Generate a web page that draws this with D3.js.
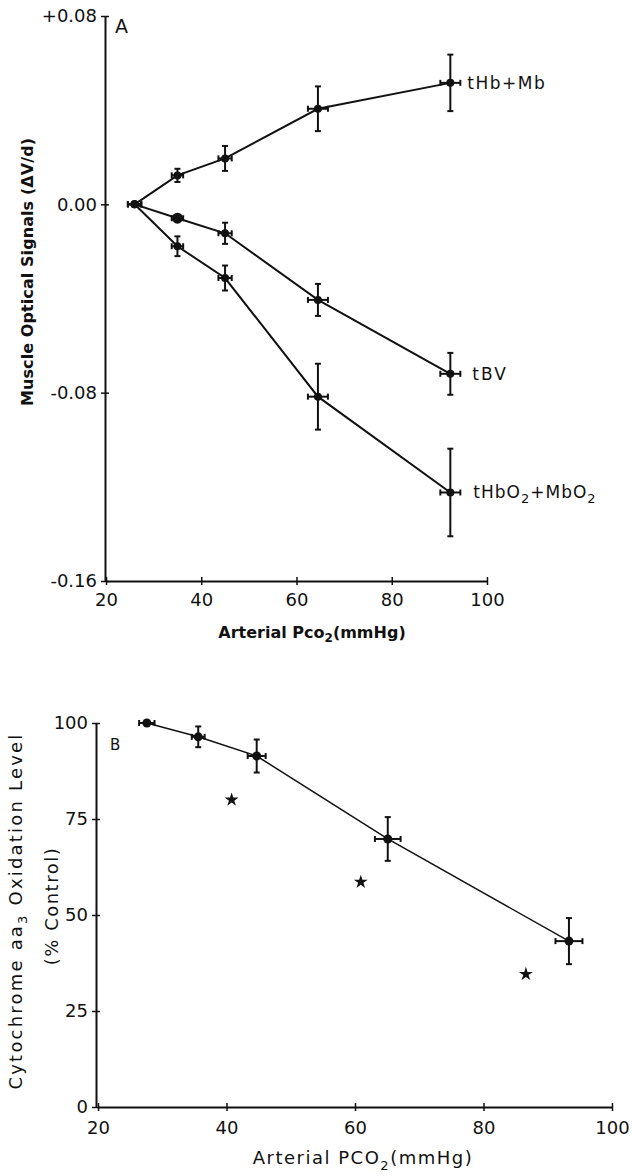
<!DOCTYPE html>
<html>
<head>
<meta charset="utf-8">
<script src="https://cdn.jsdelivr.net/npm/d3@7"></script>
<style>
  body { margin: 0; background: #fff; }
  svg text { font-family: "DejaVu Sans", sans-serif; fill: #111; }
</style>
</head>
<body>
<svg id="chart" width="632" height="1176"></svg>
<script>
// panel A: muscle optical signals vs arterial PCO2
var pco2A = [26, 35, 45, 64.5, 92.3];
var pco2ErrA = [1.4, 1.2, 1.4, 2.1, 2.1];
var hbMb = [0, 0.0123, 0.0195, 0.0406, 0.0516];
var hbMbErr = [0, 0.0028, 0.0053, 0.0095, 0.012];
var tbv = [0, -0.0059, -0.0123, -0.0406, -0.072];
var tbvErr = [0, 0, 0.0045, 0.0068, 0.0089];
var hbo2 = [0, -0.0178, -0.0313, -0.0817, -0.1224];
var hbo2Err = [0, 0.0042, 0.0053, 0.014, 0.0186];
var yTicksA = [-0.16, -0.08, 0, 0.08];
var yLabelsA = ["-0.16", "-0.08", "0.00", "+0.08"];
var xTicks = [20, 40, 60, 80, 100];

// panel B: cytochrome aa3 oxidation level
var pco2B = [27.6, 35.6, 44.7, 65.1, 93.3];
var pco2ErrB = [1.2, 1.0, 1.4, 2.0, 2.1];
var cytOx = [100, 96.4, 91.4, 69.8, 43.2];
var cytOxErr = [0, 2.7, 4.3, 5.7, 6.0];
var starX = [40.8, 60.9, 86.6];
var starY = [80, 58.6, 34.6];
var yTicksB = [0, 25, 50, 75, 100];

var svg = d3.select("#chart");

function crossTicks(g, horizontal, fs) {
  g.selectAll(".tick line").attr(horizontal ? "y1" : "x1", -4).attr(horizontal ? "y2" : "x2", 4)
    .attr("stroke", "#111").attr("stroke-width", 1.5);
  g.select(".domain").attr("stroke", "#111").attr("stroke-width", 2);
  g.attr("font-size", fs);
  g.selectAll("text").attr("font-size", fs).style("font-family", "DejaVu Sans, sans-serif");
}

function drawErrors(g, xs, ys, exs, eys, x, y, cap) {
  xs.forEach(function(xv, i) {
    var cx = x(xv), cy = y(ys[i]);
    if (eys[i] > 0) {
      var y1 = y(ys[i] + eys[i]), y2 = y(ys[i] - eys[i]);
      g.append("line").attr("x1", cx).attr("x2", cx).attr("y1", y1).attr("y2", y2);
      g.append("line").attr("x1", cx - cap).attr("x2", cx + cap).attr("y1", y1).attr("y2", y1);
      g.append("line").attr("x1", cx - cap).attr("x2", cx + cap).attr("y1", y2).attr("y2", y2);
    }
    if (exs[i] > 0) {
      var x1 = x(xv - exs[i]), x2 = x(xv + exs[i]);
      g.append("line").attr("x1", x1).attr("x2", x2).attr("y1", cy).attr("y2", cy);
      g.append("line").attr("x1", x1).attr("x2", x1).attr("y1", cy - cap).attr("y2", cy + cap);
      g.append("line").attr("x1", x2).attr("x2", x2).attr("y1", cy - cap).attr("y2", cy + cap);
    }
  });
}

// ---------- panel A ----------
var xA = d3.scaleLinear().domain([20, 100]).range([106, 487]);
var yA = d3.scaleLinear().domain([-0.16, 0.08]).range([581, 16]);

svg.append("g").attr("transform", "translate(0,581)")
  .call(d3.axisBottom(xA).tickValues(xTicks).tickSize(4).tickSizeOuter(0).tickPadding(8))
  .call(crossTicks, true, 18);
svg.append("g").attr("transform", "translate(105,0)")
  .call(d3.axisLeft(yA).tickValues(yTicksA).tickFormat(function(d, i) { return yLabelsA[i]; })
    .tickSize(4).tickSizeOuter(0).tickPadding(4))
  .call(crossTicks, false, 18);

var seriesA = [
  { y: hbMb, e: hbMbErr },
  { y: tbv, e: tbvErr },
  { y: hbo2, e: hbo2Err }
];
var lineA = d3.line();
seriesA.forEach(function(s) {
  var pts = pco2A.map(function(d, i) { return [xA(d), yA(s.y[i])]; });
  svg.append("path").attr("d", lineA(pts)).attr("fill", "none")
    .attr("stroke", "#111").attr("stroke-width", 2);
  var eg = svg.append("g").attr("stroke", "#111").attr("stroke-width", 2);
  drawErrors(eg, pco2A, s.y, pco2ErrA, s.e, xA, yA, 3);
  svg.append("g").selectAll("circle").data(pts).join("circle")
    .attr("cx", function(d) { return d[0]; }).attr("cy", function(d) { return d[1]; })
    .attr("r", 4).attr("fill", "#111");
});
// the larger dot on tBV at 35 mmHg
svg.append("circle").attr("cx", xA(pco2A[1])).attr("cy", yA(tbv[1])).attr("r", 5.5).attr("fill", "#111");

svg.append("text").attr("x", xA(pco2A[4]) + 17).attr("y", yA(hbMb[4]) + 6)
  .attr("font-size", 17).attr("letter-spacing", 1.5).text("tHb+Mb");
svg.append("text").attr("x", xA(pco2A[4]) + 22).attr("y", yA(tbv[4]) + 6)
  .attr("font-size", 17).attr("letter-spacing", 2).text("tBV");
var lab3 = svg.append("text").attr("x", xA(pco2A[4]) + 23).attr("y", yA(hbo2[4]) + 6)
  .attr("font-size", 17).attr("letter-spacing", 1);
lab3.append("tspan").text("tHbO");
lab3.append("tspan").attr("font-size", 13).attr("dy", 5).text("2");
lab3.append("tspan").attr("dy", -5).text("+MbO");
lab3.append("tspan").attr("font-size", 13).attr("dy", 5).text("2");

svg.append("text").attr("x", 115).attr("y", 33).attr("font-size", 19).text("A");

svg.append("text").attr("transform", "translate(33,272) rotate(-90)")
  .attr("text-anchor", "middle").attr("font-size", 16).attr("font-weight", "bold")
  .attr("textLength", 268).attr("lengthAdjust", "spacing")
  .text("Muscle Optical Signals (\u0394V/d)");

var xlA = svg.append("text").attr("x", 312).attr("y", 638).attr("text-anchor", "middle")
  .attr("font-size", 16).attr("font-weight", "bold");
xlA.append("tspan").text("Arterial Pco");
xlA.append("tspan").attr("font-size", 12).attr("dy", 4).text("2");
xlA.append("tspan").attr("dy", -4).text("(mmHg)");

// ---------- panel B ----------
var xB = d3.scaleLinear().domain([20, 100]).range([98, 612]);
var yB = d3.scaleLinear().domain([0, 100]).range([1107, 723]);

svg.append("g").attr("transform", "translate(0,1107)")
  .call(d3.axisBottom(xB).tickValues(xTicks).tickSize(4).tickSizeOuter(0).tickPadding(10))
  .call(crossTicks, true, 18);
svg.append("g").attr("transform", "translate(96,0)")
  .call(d3.axisLeft(yB).tickValues(yTicksB).tickSize(4).tickSizeOuter(0).tickPadding(4))
  .call(crossTicks, false, 18);

var ptsB = pco2B.map(function(d, i) { return [xB(d), yB(cytOx[i])]; });
svg.append("path").attr("d", d3.line()(ptsB)).attr("fill", "none")
  .attr("stroke", "#111").attr("stroke-width", 1.5);
var egB = svg.append("g").attr("stroke", "#111").attr("stroke-width", 2);
drawErrors(egB, pco2B, cytOx, pco2ErrB, cytOxErr, xB, yB, 3);
svg.append("g").selectAll("circle").data(ptsB).join("circle")
  .attr("cx", function(d) { return d[0]; }).attr("cy", function(d) { return d[1]; })
  .attr("r", 4.5).attr("fill", "#111");

svg.append("g").selectAll("path").data(starX).join("path")
  .attr("transform", function(d, i) { return "translate(" + xB(d) + "," + yB(starY[i]) + ")"; })
  .attr("d", d3.symbol().type(d3.symbolStar).size(60))
  .attr("fill", "#111");

svg.append("text").attr("x", 110).attr("y", 750).attr("font-size", 15).text("B");

var ylB = svg.append("text").attr("transform", "translate(22,911) rotate(-90)")
  .attr("text-anchor", "middle").attr("font-size", 18).attr("letter-spacing", 2.2);
ylB.append("tspan").text("Cytochrome aa");
ylB.append("tspan").attr("font-size", 13).attr("dy", 5).text("3");
ylB.append("tspan").attr("dy", -5).text(" Oxidation Level");
svg.append("text").attr("transform", "translate(58,906) rotate(-90)")
  .attr("text-anchor", "middle").attr("font-size", 18).attr("letter-spacing", 1.5).text("(% Control)");

var xlB = svg.append("text").attr("x", 363).attr("y", 1164).attr("text-anchor", "middle")
  .attr("font-size", 18).attr("letter-spacing", 1.5);
xlB.append("tspan").text("Arterial PCO");
xlB.append("tspan").attr("font-size", 13).attr("dy", 6).text("2");
xlB.append("tspan").attr("dy", -6).text("(mmHg)");
</script>
</body>
</html>
